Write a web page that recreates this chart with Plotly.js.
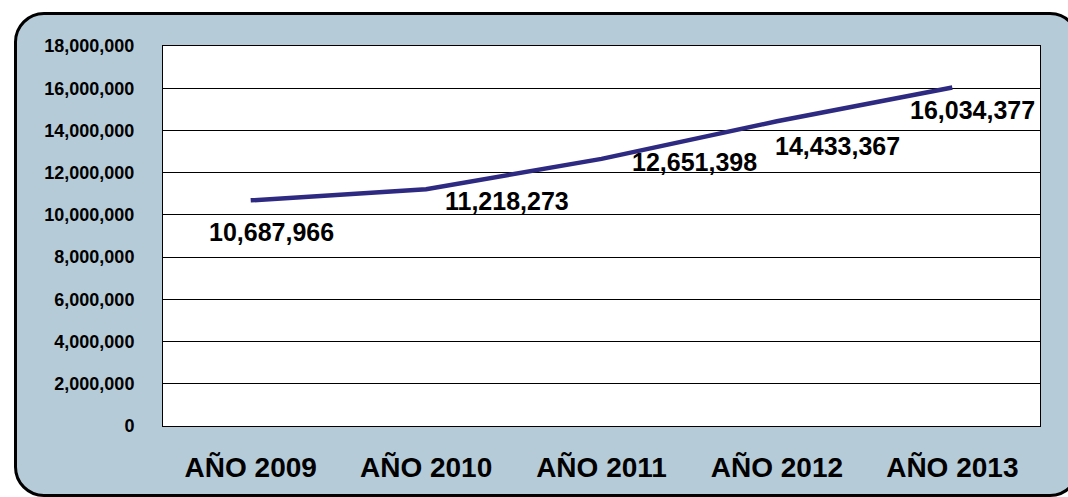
<!DOCTYPE html>
<html><head><meta charset="utf-8">
<script src="https://cdn.plot.ly/plotly-3.0.1.min.js"></script>
<style>
html,body{margin:0;padding:0;background:#fff;width:1068px;height:497px;overflow:hidden;}
#frame{position:absolute;left:14px;top:12px;width:1060px;height:479px;border:3px solid #000;border-radius:30px;background:#b6cbd8;}
#chart{position:absolute;left:0;top:0;width:1068px;height:497px;}
</style></head>
<body>
<div id="frame"></div>
<div id="chart"></div>
<script>
const categories = ["AÑO 2009","AÑO 2010","AÑO 2011","AÑO 2012","AÑO 2013"];
const values = [10687966, 11218273, 12651398, 14433367, 16034377];
const yTickVals = [0, 2000000, 4000000, 6000000, 8000000, 10000000, 12000000, 14000000, 16000000, 18000000];
const yTickText = ["0","2,000,000","4,000,000","6,000,000","8,000,000","10,000,000","12,000,000","14,000,000","16,000,000","18,000,000"];
const labelShiftX = [21, 81, 93, 61, 20];
const labelShiftY = [-32, -12, -3, -25, -22];

const fmt = v => v.toLocaleString('en-US');
const FONT = 'Arial, Liberation Sans, sans-serif';

const trace = {
  x: categories, y: values, type: 'scatter', mode: 'lines',
  line: {color: '#2e2a82', width: 4.5}, hoverinfo: 'skip'
};

const annotations = categories.map((c, i) => ({
  x: c, y: values[i], xref: 'x', yref: 'y', text: '<b>' + fmt(values[i]) + '</b>',
  showarrow: false, xshift: labelShiftX[i], yshift: labelShiftY[i],
  font: {family: FONT, size: 25, color: '#000'}
}));

const layout = {
  width: 1068, height: 497,
  margin: {l: 163, r: 28, t: 46, b: 71},
  paper_bgcolor: 'rgba(0,0,0,0)', plot_bgcolor: '#ffffff',
  showlegend: false,
  xaxis: {
    type: 'category', range: [-0.5, 4.5], showgrid: false, zeroline: false,
    showline: true, mirror: true, linecolor: '#000', linewidth: 1,
    ticks: 'outside', ticklen: 16, tickcolor: 'rgba(0,0,0,0)',
    tickfont: {family: FONT, size: 28, color: '#000', weight: 'bold'}
  },
  yaxis: {
    range: [0, 18000000], tickmode: 'array', tickvals: yTickVals,
    ticktext: yTickText.map(t => '<b>' + t + '</b>'),
    showgrid: true, gridcolor: '#000', gridwidth: 1, zeroline: false,
    showline: true, mirror: true, linecolor: '#000', linewidth: 1,
    ticks: 'outside', ticklen: 24, tickcolor: 'rgba(0,0,0,0)',
    tickfont: {family: FONT, size: 18, color: '#000', weight: 'bold'}
  },
  annotations: annotations
};

Plotly.newPlot('chart', [trace], layout, {staticPlot: true, displayModeBar: false});
</script>
</body></html>
